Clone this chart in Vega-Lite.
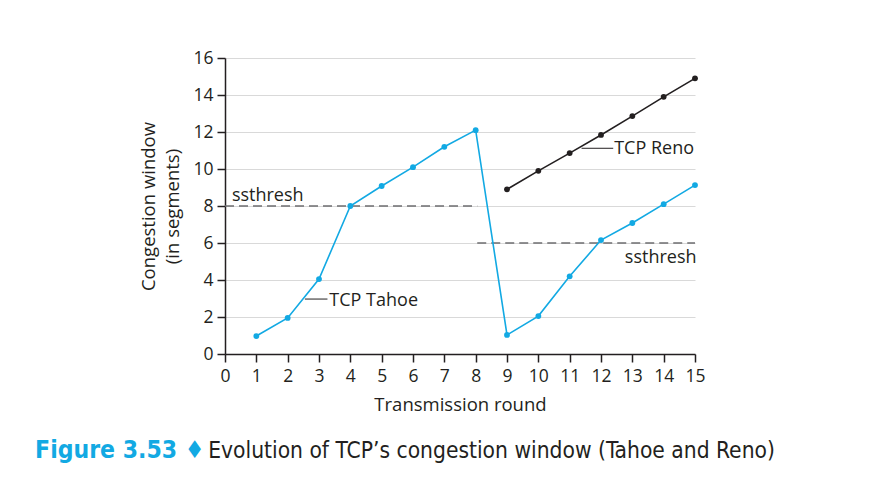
{
  "$schema": "https://vega.github.io/schema/vega-lite/v6.json",
  "width": 470,
  "height": 296,
  "autosize": {"type": "none"},
  "padding": {"left": 225, "top": 58, "right": 184, "bottom": 133},
  "background": "white",
  "config": {
    "view": {"stroke": null},
    "font": "Open Sans"
  },
  "datasets": {
    "cwnd": [
      {"x": 1, "y": 0.97, "variant": "TCP Tahoe"},
      {"x": 2, "y": 1.95, "variant": "TCP Tahoe"},
      {"x": 3, "y": 4.05, "variant": "TCP Tahoe"},
      {"x": 4, "y": 8.0, "variant": "TCP Tahoe"},
      {"x": 5, "y": 9.08, "variant": "TCP Tahoe"},
      {"x": 6, "y": 10.1, "variant": "TCP Tahoe"},
      {"x": 7, "y": 11.2, "variant": "TCP Tahoe"},
      {"x": 8, "y": 12.1, "variant": "TCP Tahoe"},
      {"x": 9, "y": 1.03, "variant": "TCP Tahoe"},
      {"x": 10, "y": 2.05, "variant": "TCP Tahoe"},
      {"x": 11, "y": 4.2, "variant": "TCP Tahoe"},
      {"x": 12, "y": 6.16, "variant": "TCP Tahoe"},
      {"x": 13, "y": 7.08, "variant": "TCP Tahoe"},
      {"x": 14, "y": 8.1, "variant": "TCP Tahoe"},
      {"x": 15, "y": 9.13, "variant": "TCP Tahoe"},
      {"x": 9, "y": 8.9, "variant": "TCP Reno"},
      {"x": 10, "y": 9.9, "variant": "TCP Reno"},
      {"x": 11, "y": 10.86, "variant": "TCP Reno"},
      {"x": 12, "y": 11.84, "variant": "TCP Reno"},
      {"x": 13, "y": 12.86, "variant": "TCP Reno"},
      {"x": 14, "y": 13.9, "variant": "TCP Reno"},
      {"x": 15, "y": 14.9, "variant": "TCP Reno"}
    ],
    "thresh": [
      {"x": 0, "x2": 8.05, "y": 8},
      {"x": 8.05, "x2": 15, "y": 6}
    ],
    "leaders": [
      {"x": 2.55, "x2": 3.27, "y": 2.97},
      {"x": 11.38, "x2": 12.39, "y": 11.12}
    ],
    "labelsLeft": [
      {"x": 3.33, "y": 2.6, "text": "TCP Tahoe"},
      {"x": 12.42, "y": 10.79, "text": "TCP Reno"},
      {"x": 0.22, "y": 8.27, "text": "ssthresh"}
    ],
    "labelsRight": [
      {"x": 15.05, "y": 4.92, "text": "ssthresh"}
    ],
    "captionA": [
      {"x": -6.06, "y": -5.62, "text": "Figure 3.53 ♦"}
    ],
    "captionB": [
      {"x": 17.55, "y": -5.62, "text": "Evolution of TCP’s congestion window (Tahoe and Reno)"}
    ]
  },
  "encoding": {
    "x": {"field": "x", "type": "quantitative", "scale": {"domain": [0, 15], "nice": false},
      "axis": {"values": [0,1,2,3,4,5,6,7,8,9,10,11,12,13,14,15], "grid": false, "title": "Transmission round",
        "labelPadding": 5, "titlePadding": 11, "labelOverlap": false, "labelFlush": false,
        "domainColor": "#231f20", "domainWidth": 1.5, "tickColor": "#231f20", "tickWidth": 1.5, "tickSize": 8,
        "labelFont": "Open Sans", "labelFontSize": 17.5, "labelColor": "#231f20",
        "titleFont": "Open Sans", "titleFontSize": 18.5, "titleFontWeight": "normal", "titleColor": "#231f20"}},
    "y": {"field": "y", "type": "quantitative", "scale": {"domain": [0, 16], "nice": false},
      "axis": {"values": [0,2,4,6,8,10,12,14,16], "grid": true, "gridColor": "#d9d9d9", "gridWidth": 1.2,
        "title": ["Congestion window", "(in segments)"], "titlePadding": 10, "labelPadding": 4, "titleLineHeight": 24,
        "labelOverlap": false, "labelFlush": false,
        "domainColor": "#231f20", "domainWidth": 1.5, "tickColor": "#231f20", "tickWidth": 1.5, "tickSize": 8,
        "labelFont": "Open Sans", "labelFontSize": 17.5, "labelColor": "#231f20",
        "titleFont": "Open Sans", "titleFontSize": 18.5, "titleFontWeight": "normal", "titleColor": "#231f20"}}
  },
  "layer": [
    {
      "data": {"name": "thresh"},
      "mark": {"type": "rule", "color": "#6d6e70", "strokeWidth": 1.5, "strokeDash": [9, 5]},
      "encoding": {"x2": {"field": "x2"}}
    },
    {
      "data": {"name": "cwnd"},
      "mark": {"type": "line", "strokeWidth": 1.6, "point": {"filled": true, "size": 34}},
      "encoding": {
        "color": {"field": "variant", "type": "nominal", "scale": {"domain": ["TCP Tahoe", "TCP Reno"], "range": ["#12a9e3", "#231f20"]}, "legend": null}
      }
    },
    {
      "data": {"name": "leaders"},
      "mark": {"type": "rule", "color": "#231f20", "strokeWidth": 1},
      "encoding": {"x2": {"field": "x2"}}
    },
    {
      "data": {"name": "labelsLeft"},
      "mark": {"type": "text", "align": "left", "baseline": "alphabetic", "fontSize": 18, "color": "#231f20", "font": "Open Sans"},
      "encoding": {"text": {"field": "text"}}
    },
    {
      "data": {"name": "labelsRight"},
      "mark": {"type": "text", "align": "right", "baseline": "alphabetic", "fontSize": 18, "color": "#231f20", "font": "Open Sans"},
      "encoding": {"text": {"field": "text"}}
    },
    {
      "data": {"name": "captionA"},
      "mark": {"type": "text", "align": "left", "baseline": "alphabetic", "fontSize": 24.5, "fontWeight": "bold", "color": "#12a9e3", "font": "Liberation Sans Narrow, DejaVu Sans Condensed, Roboto"},
      "encoding": {"text": {"field": "text"}}
    },
    {
      "data": {"name": "captionB"},
      "mark": {"type": "text", "align": "right", "baseline": "alphabetic", "fontSize": 22.6, "color": "#231f20", "font": "Liberation Sans Narrow, DejaVu Sans Condensed, Roboto"},
      "encoding": {"text": {"field": "text"}}
    }
  ]
}
